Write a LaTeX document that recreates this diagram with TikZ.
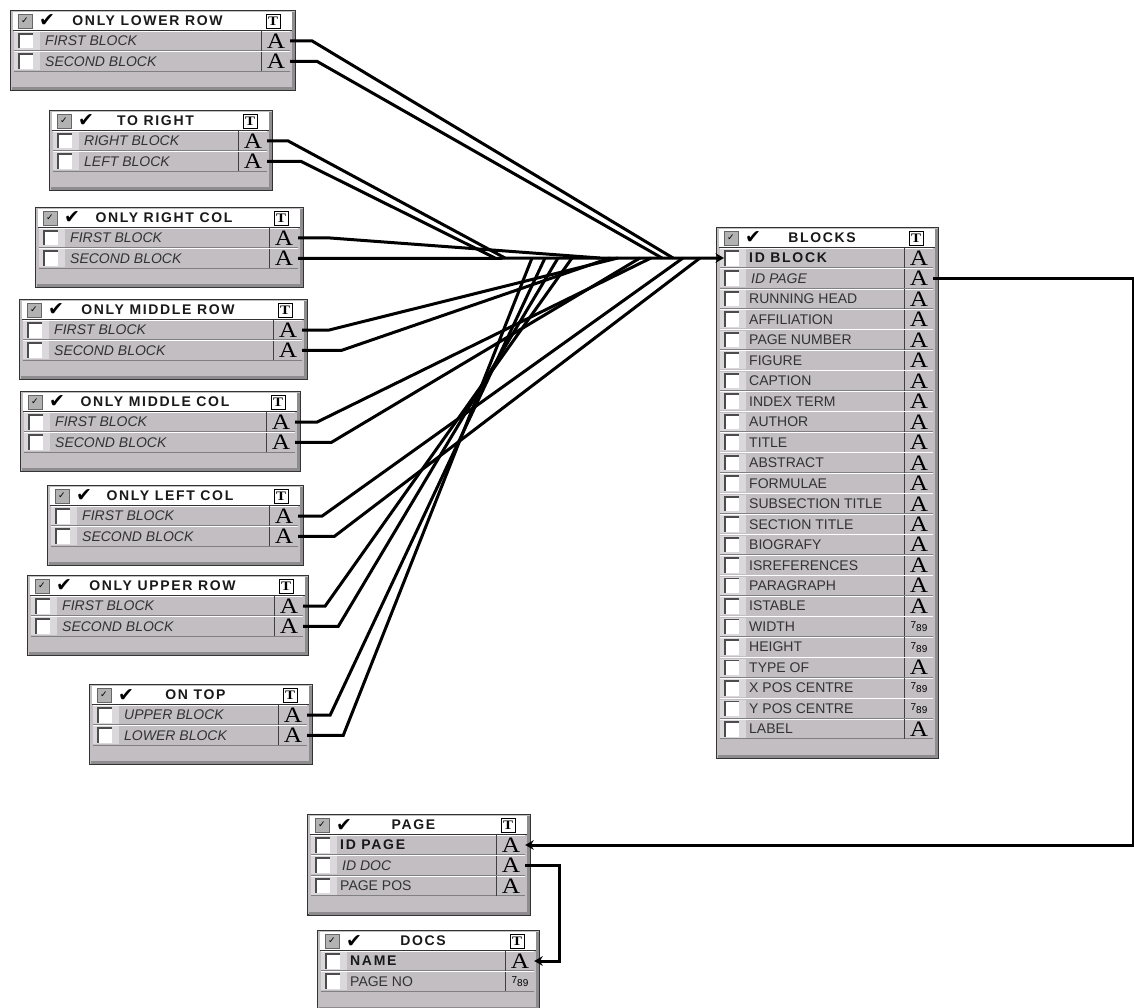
\documentclass[tikz,border=0pt]{standalone}
\usepackage{fontspec}
\usepackage{xcolor}
\usetikzlibrary{positioning,arrows.meta,calc}
\setmainfont{Liberation Sans}
\newfontfamily\titlefont[LetterSpace=12]{Liberation Sans}
\newfontfamily\serifglyph[FakeStretch=1.15]{Liberation Serif}
\newfontfamily\tickfont{DejaVu Sans}
\definecolor{panel}{HTML}{C2BEC2}
\definecolor{panelside}{HTML}{8E8C8E}
\definecolor{tickzone}{HTML}{DAD8DA}
\newcommand{\glyphtext}{{\serifglyph\fontsize{22}{22}\selectfont A}}
\newcommand{\glyphnum}{{\fontsize{10}{10}\selectfont\raisebox{2pt}{7}\raisebox{-1pt}{89}}}
\newcommand{\dbtable}[7]{%
  \pgfmathsetmacro{\tw}{#4-#2}
  \pgfmathsetmacro{\th}{#5*20.48+39}
  \node[tableframe, minimum width=\tw pt, minimum height=\th pt] (#1) at (#2,#3) {};
  \draw[panelside, line width=3pt] ($(#1.north east)+(-2.5,2)$) -- ($(#1.south east)+(-2.5,-2.5)$) -- ($(#1.south west)+(2,-2.5)$);
  \pgfmathsetmacro{\tbw}{\tw-6}
  \node[titlebar, minimum width=\tbw pt] (#1-head) at (#2+3,#3+2) {};
  \draw[black!80, line width=1.6pt] (#1-head.south west) -- (#1-head.south east);
  \node[iconbox] (#1-icon) at (#2+15,#3+11) {\tickfont\fontsize{9}{9}\selectfont ✓};
  \node[tick] (#1-tick) at (#2+37,#3+11) {✔};
  \node[titletext] (#1-title) at (#2+\tw/2-5,#3+11) {#6};
  \node[tbox] (#1-t) at (#4-22,#3+11) {T};
  \foreach \lab/\typ/\sty [count=\i] in {#7} {
    \pgfmathsetmacro{\cy}{#3+31+(\i-1)*20.48}
    \pgfmathsetmacro{\rw}{\tw-9}
    \node[rowbar, minimum width=\rw pt] (#1-r\i) at (#2+4,\cy) {};
    \node[tickzone] (#1-z\i) at (#2+4,\cy) {};
    \draw[white, line width=1pt] (#1-r\i.north west) -- (#1-r\i.north east);
    \draw[black!50, line width=1pt] (#1-r\i.south west) -- (#1-r\i.south east);
    \node[checkbox] (#1-c\i) at (#2+8,\cy) {};
    \node[\sty] (#1-l\i) at (#2+33,\cy) {\lab};
    \node[typebox] (#1-\i) at (#4-19,\cy) {\typ};
    \draw[black!75, line width=1pt] (#1-\i.north west) -- (#1-\i.south west);
  }
}

\begin{document}
\begin{tikzpicture}[
  x=1pt, y=-1pt,
  tableframe/.style={draw=black!80, fill=panel, line width=1.4pt, anchor=north west, inner sep=0pt},
  titlebar/.style={fill=white, anchor=north west, minimum height=18pt, inner sep=0pt},
  iconbox/.style={fill=black!30, draw=black!60, minimum size=14pt, inner sep=0pt},
  tick/.style={font=\tickfont\fontsize{19}{19}\selectfont, inner sep=0pt},
  titletext/.style={font=\titlefont\bfseries\fontsize{14}{16}\selectfont, text=black!90, inner sep=0pt},
  tbox/.style={draw=black, fill=white, line width=0.9pt, minimum size=14pt, inner sep=0pt,
               font=\serifglyph\bfseries\fontsize{13}{13}\selectfont},
  rowbar/.style={fill=panel, anchor=west, minimum height=19.5pt, inner sep=0pt},
  tickzone/.style={fill=tickzone, anchor=west, minimum width=26pt, minimum height=18pt, inner sep=0pt},
  checkbox/.style={fill=white, anchor=west, minimum size=15pt, inner sep=0pt, path picture={
      \draw[black!70, line width=2.6pt] (path picture bounding box.south west) -- (path picture bounding box.north west) -- (path picture bounding box.north east);}},
  rowtext/.style={anchor=west, inner sep=0pt, font=\fontsize{14}{16}\selectfont},
  rowplain/.style={rowtext, text=black!80},
  rowkey/.style={rowtext, font=\titlefont\bfseries\fontsize{14}{16}\selectfont, text=black!90},
  rowfk/.style={rowtext, xshift=2pt, font=\itshape\fontsize{14}{16}\selectfont, text=black!80},
  typebox/.style={minimum width=28pt, minimum height=19pt, inner sep=0pt},
  link/.style={line width=3pt, black, line join=miter},
  arr/.style={link, -{Stealth[length=3mm,width=3.4mm]}}
]
\clip (0,0) rectangle (1134,1008);
\dbtable{lowerrow}{10}{10}{295}{2}{ONLY LOWER ROW}{FIRST BLOCK/\glyphtext/rowfk, SECOND BLOCK/\glyphtext/rowfk}
\dbtable{toright}{49}{110}{272}{2}{TO RIGHT}{RIGHT BLOCK/\glyphtext/rowfk, LEFT BLOCK/\glyphtext/rowfk}
\dbtable{rightcol}{35}{207}{303}{2}{ONLY RIGHT COL}{FIRST BLOCK/\glyphtext/rowfk, SECOND BLOCK/\glyphtext/rowfk}
\dbtable{midrow}{19}{299}{307}{2}{ONLY MIDDLE ROW}{FIRST BLOCK/\glyphtext/rowfk, SECOND BLOCK/\glyphtext/rowfk}
\dbtable{midcol}{20}{391}{300}{2}{ONLY MIDDLE COL}{FIRST BLOCK/\glyphtext/rowfk, SECOND BLOCK/\glyphtext/rowfk}
\dbtable{leftcol}{47}{485}{303}{2}{ONLY LEFT COL}{FIRST BLOCK/\glyphtext/rowfk, SECOND BLOCK/\glyphtext/rowfk}
\dbtable{upperrow}{27}{575}{308}{2}{ONLY UPPER ROW}{FIRST BLOCK/\glyphtext/rowfk, SECOND BLOCK/\glyphtext/rowfk}
\dbtable{ontop}{89}{684}{312}{2}{ON TOP}{UPPER BLOCK/\glyphtext/rowfk, LOWER BLOCK/\glyphtext/rowfk}
\dbtable{blocks}{716}{227}{938}{24}{BLOCKS}{ID BLOCK/\glyphtext/rowkey, ID PAGE/\glyphtext/rowfk, RUNNING HEAD/\glyphtext/rowplain, AFFILIATION/\glyphtext/rowplain, PAGE NUMBER/\glyphtext/rowplain, FIGURE/\glyphtext/rowplain, CAPTION/\glyphtext/rowplain, INDEX TERM/\glyphtext/rowplain, AUTHOR/\glyphtext/rowplain, TITLE/\glyphtext/rowplain, ABSTRACT/\glyphtext/rowplain, FORMULAE/\glyphtext/rowplain, SUBSECTION TITLE/\glyphtext/rowplain, SECTION TITLE/\glyphtext/rowplain, BIOGRAFY/\glyphtext/rowplain, ISREFERENCES/\glyphtext/rowplain, PARAGRAPH/\glyphtext/rowplain, ISTABLE/\glyphtext/rowplain, WIDTH/\glyphnum/rowplain, HEIGHT/\glyphnum/rowplain, TYPE OF/\glyphtext/rowplain, X POS CENTRE/\glyphnum/rowplain, Y POS CENTRE/\glyphnum/rowplain, LABEL/\glyphtext/rowplain}
\dbtable{page}{307}{814}{530}{3}{PAGE}{ID PAGE/\glyphtext/rowkey, ID DOC/\glyphtext/rowfk, PAGE POS/\glyphtext/rowplain}
\dbtable{docs}{317}{930}{539}{2}{DOCS}{NAME/\glyphtext/rowkey, PAGE NO/\glyphnum/rowplain}
\coordinate (hub) at (blocks-c1.west);
\coordinate (rim) at (1133,500);
\coordinate (docrim) at (559,915);
\foreach \a/\b/\c in {lowerrow-1/22/673, lowerrow-2/27/662, toright-1/21/505, toright-2/34/495,
    rightcol-1/32/600, midrow-1/27/618, midrow-2/39/610, midcol-1/22/651, midcol-2/36/640,
    leftcol-1/24/683, leftcol-2/36/700, upperrow-1/22/572, upperrow-2/35/558, ontop-1/23/545, ontop-2/36/532}
  \draw[link] (\a.east) -- ++(\b,0) -- (\c,0 |- hub);
\draw[arr] (rightcol-2.east) -- (hub);
\draw[arr] (blocks-2.east) -| (rim) |- (page-1.east);
\draw[arr] (page-2.east) -| (docrim) |- (docs-1.east);
\end{tikzpicture}
\end{document}
